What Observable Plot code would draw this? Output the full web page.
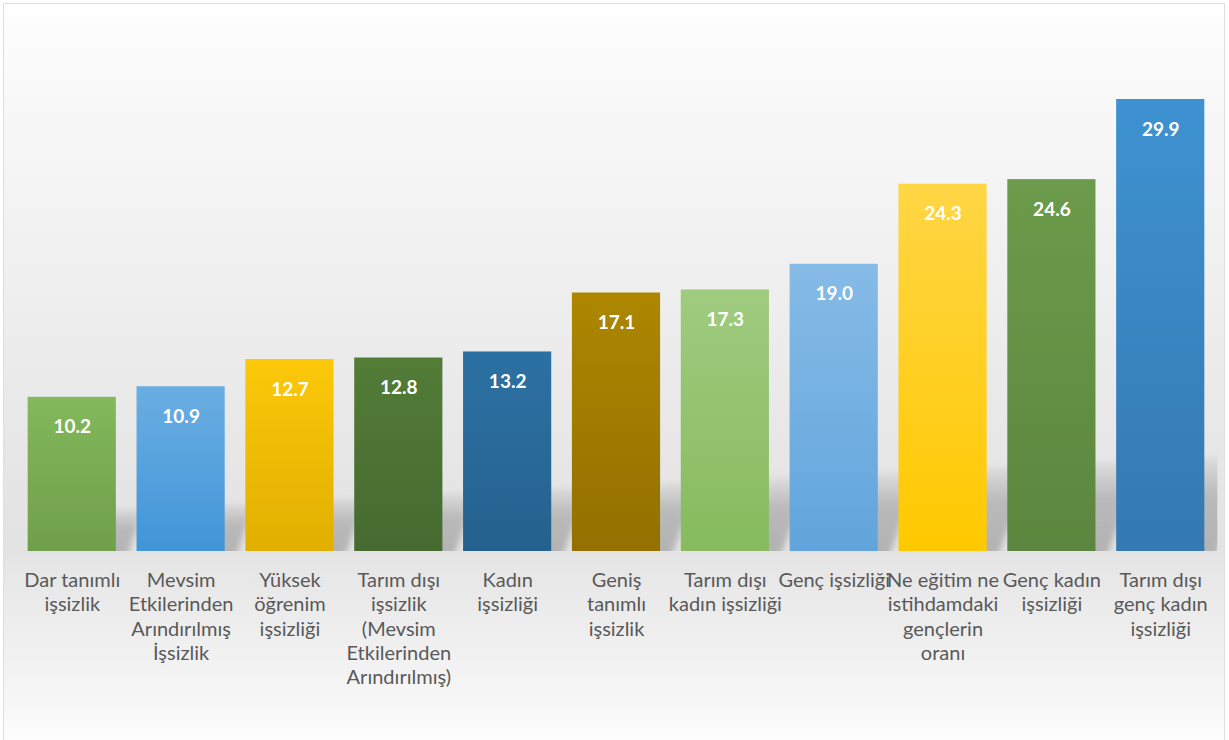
<!DOCTYPE html>
<html>
<head>
<meta charset="utf-8">
<script src="https://cdn.jsdelivr.net/npm/d3@7"></script>
<script src="https://cdn.jsdelivr.net/npm/@observablehq/plot@0.6"></script>
<style>
  html, body { margin: 0; padding: 0; background: #ffffff; overflow: hidden; }
  #frame {
    position: absolute; left: 3px; top: 3px; width: 1222px; height: 780px;
    border: 1.5px solid #dedede; box-sizing: border-box;
    background: linear-gradient(to bottom, #fefefe 0px, #f8f8f8 100px, #efefef 280px, #e7e7e7 440px, #e3e3e3 546px, #e6e6e6 560px, #f3f3f3 670px, #fdfdfd 737px, #ffffff 780px);
  }
  #chart { position: absolute; left: 0; top: 0; }
  #chart svg { overflow: visible; }
</style>
</head>
<body>
<div id="frame"></div>
<div id="chart"></div>
<script>
// ---- data ----
const categories = [
  "Dar tanımlı işsizlik",
  "Mevsim Etkilerinden Arındırılmış İşsizlik",
  "Yüksek öğrenim işsizliği",
  "Tarım dışı işsizlik (Mevsim Etkilerinden Arındırılmış)",
  "Kadın işsizliği",
  "Geniş tanımlı işsizlik",
  "Tarım dışı kadın işsizliği",
  "Genç işsizliği",
  "Ne eğitim ne istihdamdaki gençlerin oranı",
  "Genç kadın işsizliği",
  "Tarım dışı genç kadın işsizliği"
];
const values = [10.2, 10.9, 12.7, 12.8, 13.2, 17.1, 17.3, 19.0, 24.3, 24.6, 29.9];
const tickLabels = [
  "Dar tanımlı\nişsizlik",
  "Mevsim\nEtkilerinden\nArındırılmış\nİşsizlik",
  "Yüksek\nöğrenim\nişsizliği",
  "Tarım dışı\nişsizlik\n(Mevsim\nEtkilerinden\nArındırılmış)",
  "Kadın\nişsizliği",
  "Geniş\ntanımlı\nişsizlik",
  "Tarım dışı\nkadın işsizliği",
  "Genç işsizliği",
  "Ne eğitim ne\nistihdamdaki\ngençlerin\noranı",
  "Genç kadın\nişsizliği",
  "Tarım dışı\ngenç kadın\nişsizliği"
];
const topColors    = ["#83b85b", "#6aaee2", "#fcc80a", "#537c37", "#2c71a3", "#ad8700", "#9fcb7f", "#86bbe6", "#ffd645", "#6c9b4b", "#3e92d1"];
const bottomColors = ["#6f9f4b", "#4095d7", "#e0af00", "#466a30", "#25618e", "#937000", "#87bb5e", "#61a5dc", "#ffc900", "#5c863f", "#3479b1"];

const data = categories.map((c, i) => ({category: c, value: values[i], label: tickLabels[i], i}));

// gradient definitions (decoration)
function defsMark() {
  const g = d3.create("svg:g");
  const defs = g.append("defs");
  categories.forEach((c, i) => {
    const lg = defs.append("linearGradient")
      .attr("id", "barGrad" + i).attr("x1", 0).attr("y1", 0).attr("x2", 0).attr("y2", 1);
    lg.append("stop").attr("offset", "0%").attr("stop-color", topColors[i]);
    lg.append("stop").attr("offset", "100%").attr("stop-color", bottomColors[i]);
  });
  const sg = defs.append("linearGradient")
    .attr("id", "shGrad").attr("x1", 0).attr("y1", 0).attr("x2", 0).attr("y2", 1);
  sg.append("stop").attr("offset", "0%").attr("stop-color", "#b2b2b2").attr("stop-opacity", 0.15);
  sg.append("stop").attr("offset", "40%").attr("stop-color", "#b2b2b2").attr("stop-opacity", 0.85);
  sg.append("stop").attr("offset", "100%").attr("stop-color", "#b2b2b2").attr("stop-opacity", 1);
  const f = defs.append("filter").attr("id", "shBlur")
    .attr("x", "-20%").attr("y", "-30%").attr("width", "140%").attr("height", "160%");
  f.append("feGaussianBlur").attr("stdDeviation", 3);
  return g.node();
}

// floor shadow behind bars, derived from the band scale
function shadowMark(index, scales) {
  const g = d3.create("svg:g");
  const x = scales.x, y = scales.y;
  const bw = x.bandwidth();
  const base = y(0);
  const left = x(categories[0]) - 20;
  const right = x(categories[categories.length - 1]) + bw + 13;
  g.append("clipPath").attr("id", "shClip")
    .append("rect").attr("x", left).attr("y", 0).attr("width", right - left).attr("height", base);
  const h = (px) => 37 + 0.048 * px;
  const cg = g.append("g").attr("clip-path", "url(#shClip)");
  categories.forEach((c) => {
    const x0 = x(c) + 11, x1 = x(c) + bw + 11;
    const hL = h(x0), hR = h(x1);
    const p = d3.path();
    p.moveTo(x0, base + 6);
    p.lineTo(x1, base + 6);
    p.lineTo(x1 + 0.4 * hR, base - hR);
    p.lineTo(x0 + 0.4 * hL, base - hL);
    p.closePath();
    cg.append("path").attr("d", p.toString())
      .attr("fill", "url(#shGrad)").attr("filter", "url(#shBlur)");
  });
  return g.node();
}

const plot = Plot.plot({
  width: 1229,
  height: 740,
  marginTop: 97.5,
  marginBottom: 189,
  marginLeft: 7,
  marginRight: 4,
  style: {background: "transparent", overflow: "visible"},
  x: {domain: categories, padding: 0.19, round: false, axis: null},
  y: {domain: [0, 30], axis: null},
  color: {type: "identity"},
  marks: [
    defsMark,
    shadowMark,
    Plot.barY(data, {x: "category", y: "value", fill: d => `url(#barGrad${d.i})`}),
    Plot.text(data, {
      x: "category", y: "value", text: d => d.value.toFixed(1), dy: 30,
      fill: "white", fontWeight: "bold", fontSize: 19, fontFamily: "Lato"
    }),
    Plot.text(data, {
      x: "category", text: "label", frameAnchor: "bottom", lineAnchor: "top", dy: 18,
      fill: "#595959", fontSize: 20, lineHeight: 1.22, fontFamily: "Lato"
    })
  ]
});
document.getElementById("chart").appendChild(plot);
</script>
</body>
</html>
